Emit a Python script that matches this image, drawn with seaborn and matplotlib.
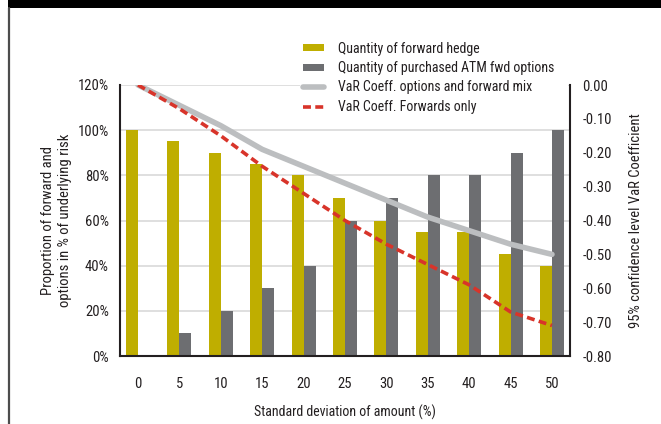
import numpy as np
import pandas as pd
import matplotlib
matplotlib.use("Agg")
import matplotlib.pyplot as plt
import seaborn as sns
from matplotlib.lines import Line2D
from matplotlib.patches import Rectangle, Patch
from matplotlib.ticker import FuncFormatter

# Standard deviation of the exposure amount (%)
std_dev = [0, 5, 10, 15, 20, 25, 30, 35, 40, 45, 50]
# Hedge proportions (% of underlying risk)
forward_qty = [100, 95, 90, 85, 80, 70, 60, 55, 55, 45, 40]
option_qty = [0, 10, 20, 30, 40, 60, 70, 80, 80, 90, 100]
# 95% confidence VaR coefficients
var_mix = [0.00, -0.06, -0.12, -0.19, -0.24, -0.29, -0.34, -0.39, -0.43, -0.47, -0.50]
var_fwd = [0.00, -0.07, -0.15, -0.24, -0.32, -0.40, -0.47, -0.53, -0.59, -0.67, -0.71]

left_ticks = [0, 20, 40, 60, 80, 100, 120]
right_ticks = [0.0, -0.1, -0.2, -0.3, -0.4, -0.5, -0.6, -0.7, -0.8]

lbl_fwd = "Quantity of forward hedge"
lbl_opt = "Quantity of purchased ATM fwd options"
lbl_mix = "VaR Coeff. options and forward mix"
lbl_only = "VaR Coeff. Forwards only"

C_YEL = "#BFAE00"
C_DGR = "#6D6E71"
C_LGR = "#BCBEC0"
C_RED = "#D8342A"
C_TXT = "#231F20"
FS = 10

sns.set_theme(style="white")
plt.rcParams["font.family"] = ["Roboto Condensed", "DejaVu Sans"]
plt.rcParams["axes.unicode_minus"] = False
plt.rcParams["font.size"] = FS

bars = pd.DataFrame({
    "sd": [str(s) for s in std_dev] * 2,
    "value": forward_qty + option_qty,
    "series": [lbl_fwd] * len(std_dev) + [lbl_opt] * len(std_dev),
})
lines = pd.DataFrame({
    "pos": np.arange(len(std_dev)).tolist() * 2,
    "var": var_mix + var_fwd,
    "series": [lbl_mix] * len(std_dev) + [lbl_only] * len(std_dev),
})

fig = plt.figure(figsize=(6.61, 4.24), dpi=100)
ax = fig.add_axes([120 / 661, 1 - 356 / 424, 450 / 661, 271 / 424])

sns.barplot(data=bars, x="sd", y="value", hue="series",
            palette=[C_YEL, C_DGR], width=0.58, gap=0, saturation=1,
            linewidth=0, legend=False, ax=ax, zorder=2)
ax.set_ylim(0, 120)
ax.set_xlim(-0.435, len(std_dev) - 1 + 0.435)
ax.set_yticks(left_ticks)
ax.yaxis.set_major_formatter(FuncFormatter(lambda v, p: f"{v:.0f}%"))
ax.grid(axis="y", color="#D9D9D9", linewidth=1.2, zorder=0)
ax.set_axisbelow(True)
for s in ["top", "right"]:
    ax.spines[s].set_visible(False)
for s in ["left", "bottom"]:
    ax.spines[s].set_color("#231F20")
    ax.spines[s].set_linewidth(1.5)
ax.tick_params(axis="both", length=0, colors=C_TXT, labelsize=FS + 0.5)
ax.tick_params(axis="y", pad=8)
ax.tick_params(axis="x", pad=15)
ax.set_xlabel("Standard deviation of amount (%)", color=C_TXT, fontsize=FS, labelpad=10)
ax.set_ylabel("Proportion of forward and\noptions in % of underlying risk",
              color=C_TXT, fontsize=FS + 0.5, labelpad=4, linespacing=1.3)

ax2 = ax.twinx()
sns.lineplot(data=lines[lines.series == lbl_mix], x="pos", y="var",
             color=C_LGR, linewidth=4, ax=ax2, legend=False)
sns.lineplot(data=lines[lines.series == lbl_only], x="pos", y="var",
             color=C_RED, linewidth=2.6, linestyle=(0, (2.2, 1.2)), ax=ax2, legend=False)
ax2.set_ylim(-0.8, 0)
ax2.set_yticks(right_ticks)
ax2.yaxis.set_major_formatter(FuncFormatter(lambda v, p: f"{v:.2f}"))
ax2.set_xlim(ax.get_xlim())
for s in ["top", "left", "bottom"]:
    ax2.spines[s].set_visible(False)
ax2.spines["right"].set_color("#231F20")
ax2.spines["right"].set_linewidth(1.5)
ax2.tick_params(axis="y", length=0, colors=C_TXT, labelsize=FS + 0.5, pad=9)
ax2.set_xlabel("")
ax2.set_ylabel("95% confidence level VaR Coefficient", color=C_TXT, fontsize=FS + 0.5, labelpad=12)
ax2.grid(False)

# white backing behind the legend block (hides the top gridline there)
fig.add_artist(Rectangle((300 / 661, 1 - 92 / 424), 268 / 661, 14 / 424,
                         transform=fig.transFigure, facecolor="white", lw=0, zorder=1))

handles = [
    Patch(facecolor=C_YEL, edgecolor="none"),
    Patch(facecolor=C_DGR, edgecolor="none"),
    Line2D([], [], color=C_LGR, linewidth=4),
    Line2D([], [], color=C_RED, linewidth=2.6, linestyle=(0, (2.2, 1.2))),
]
leg = fig.legend(handles, [lbl_fwd, lbl_opt, lbl_mix, lbl_only],
                 loc="upper left", bbox_to_anchor=(296 / 661, 1 - 35 / 424),
                 frameon=False, fontsize=FS, handlelength=1.5, handleheight=0.4,
                 handletextpad=1.0, labelspacing=0.38, borderpad=0, labelcolor=C_TXT)
leg.set_zorder(2)

# page frame: dark top band and left rule
fig.add_artist(Rectangle((8 / 661, 1 - 8 / 424), 1, 8 / 424,
                         transform=fig.transFigure, color="black", lw=0))
fig.add_artist(Line2D([8.8 / 661, 8.8 / 661], [0, 1 - 8 / 424],
                      transform=fig.transFigure, color="#4D4D4D", linewidth=1.6))

fig.savefig("out.png", dpi=100)
